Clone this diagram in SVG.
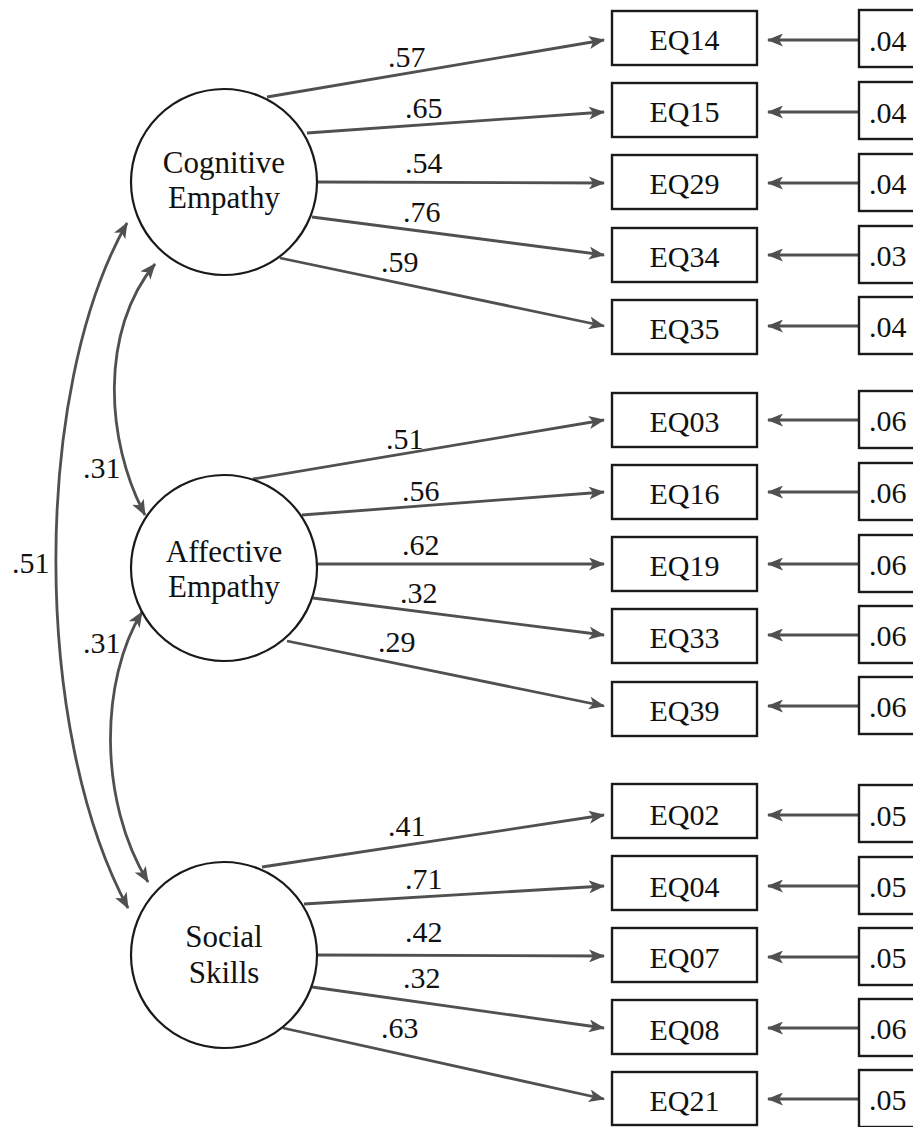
<svg xmlns="http://www.w3.org/2000/svg" width="913" height="1127" viewBox="0 0 913 1127">
<style>
.bg{fill:#ffffff}
.lat{fill:#ffffff;stroke:#1a1a1a;stroke-width:2.2}
.box{fill:#ffffff;stroke:#1a1a1a;stroke-width:2.4}
.ln{fill:none;stroke:#505050;stroke-width:2.8}
.t{font-family:"Liberation Serif","Times New Roman",serif;font-size:30px;fill:#111111}
.tl{font-family:"Liberation Serif","Times New Roman",serif;font-size:31px;fill:#111111;text-anchor:middle}
.tc{text-anchor:middle}
</style>
<defs>
<marker id="ah" viewBox="0 0 16 13" refX="15" refY="6.5" markerWidth="16" markerHeight="13" markerUnits="userSpaceOnUse" orient="auto-start-reverse">
<path d="M0,0 L16,6.5 L0,13 L4,6.5 Z" fill="#505050"/>
</marker>
</defs>
<rect class="bg" x="0" y="0" width="913" height="1127"/>

<g id="connectors">
<!-- covariances -->
<path class="ln" d="M127,223 C32,390 32,730 128,908" marker-start="url(#ah)" marker-end="url(#ah)"/>
<path class="ln" d="M155,264 C100,330 105,440 145,515" marker-start="url(#ah)" marker-end="url(#ah)"/>
<path class="ln" d="M142,612 C100,680 98,800 148,882" marker-start="url(#ah)" marker-end="url(#ah)"/>
<!-- loadings: cognitive -->
<line class="ln" x1="267" y1="97" x2="604" y2="40" marker-end="url(#ah)"/>
<line class="ln" x1="307" y1="133" x2="604" y2="112" marker-end="url(#ah)"/>
<line class="ln" x1="317" y1="182" x2="604" y2="183" marker-end="url(#ah)"/>
<line class="ln" x1="312" y1="217" x2="604" y2="255" marker-end="url(#ah)"/>
<line class="ln" x1="280" y1="258" x2="604" y2="326" marker-end="url(#ah)"/>
<!-- loadings: affective -->
<line class="ln" x1="253" y1="479" x2="604" y2="420" marker-end="url(#ah)"/>
<line class="ln" x1="302" y1="515" x2="604" y2="492" marker-end="url(#ah)"/>
<line class="ln" x1="317" y1="564" x2="604" y2="564" marker-end="url(#ah)"/>
<line class="ln" x1="313" y1="598" x2="604" y2="635" marker-end="url(#ah)"/>
<line class="ln" x1="287" y1="641" x2="604" y2="706" marker-end="url(#ah)"/>
<!-- loadings: social -->
<line class="ln" x1="262" y1="867" x2="604" y2="815" marker-end="url(#ah)"/>
<line class="ln" x1="304" y1="904" x2="604" y2="886" marker-end="url(#ah)"/>
<line class="ln" x1="317" y1="955" x2="604" y2="956" marker-end="url(#ah)"/>
<line class="ln" x1="312" y1="987" x2="604" y2="1028" marker-end="url(#ah)"/>
<line class="ln" x1="283" y1="1028" x2="604" y2="1099" marker-end="url(#ah)"/>
<!-- error arrows -->
<line class="ln" x1="859" y1="40" x2="768" y2="40" marker-end="url(#ah)"/>
<line class="ln" x1="859" y1="112" x2="768" y2="112" marker-end="url(#ah)"/>
<line class="ln" x1="859" y1="183" x2="768" y2="183" marker-end="url(#ah)"/>
<line class="ln" x1="859" y1="255" x2="768" y2="255" marker-end="url(#ah)"/>
<line class="ln" x1="859" y1="326" x2="768" y2="326" marker-end="url(#ah)"/>
<line class="ln" x1="859" y1="420" x2="768" y2="420" marker-end="url(#ah)"/>
<line class="ln" x1="859" y1="492" x2="768" y2="492" marker-end="url(#ah)"/>
<line class="ln" x1="859" y1="564" x2="768" y2="564" marker-end="url(#ah)"/>
<line class="ln" x1="859" y1="635" x2="768" y2="635" marker-end="url(#ah)"/>
<line class="ln" x1="859" y1="706" x2="768" y2="706" marker-end="url(#ah)"/>
<line class="ln" x1="859" y1="815" x2="768" y2="815" marker-end="url(#ah)"/>
<line class="ln" x1="859" y1="886" x2="768" y2="886" marker-end="url(#ah)"/>
<line class="ln" x1="859" y1="957" x2="768" y2="957" marker-end="url(#ah)"/>
<line class="ln" x1="859" y1="1028" x2="768" y2="1028" marker-end="url(#ah)"/>
<line class="ln" x1="859" y1="1099" x2="768" y2="1099" marker-end="url(#ah)"/>
<!-- labels -->
<text class="t" x="83" y="478">.31</text>
<text class="t" x="83" y="653">.31</text>
<text class="t" x="12" y="573">.51</text>
<text class="t" x="388" y="67">.57</text>
<text class="t" x="405" y="118">.65</text>
<text class="t" x="405" y="173">.54</text>
<text class="t" x="403" y="222">.76</text>
<text class="t" x="381" y="272">.59</text>
<text class="t" x="386" y="449">.51</text>
<text class="t" x="402" y="501">.56</text>
<text class="t" x="402" y="555">.62</text>
<text class="t" x="400" y="603">.32</text>
<text class="t" x="378" y="652">.29</text>
<text class="t" x="388" y="836">.41</text>
<text class="t" x="405" y="889">.71</text>
<text class="t" x="405" y="942">.42</text>
<text class="t" x="403" y="988">.32</text>
<text class="t" x="381" y="1038">.63</text>
</g>

<g id="cognitive">
<circle class="lat" cx="224" cy="182" r="93"/>
<text class="tl" x="224" y="173">Cognitive</text>
<text class="tl" x="224" y="208">Empathy</text>
</g>
<g id="affective">
<circle class="lat" cx="224" cy="568" r="93"/>
<text class="tl" x="224" y="562">Affective</text>
<text class="tl" x="224" y="597">Empathy</text>
</g>
<g id="social">
<circle class="lat" cx="224" cy="955" r="93"/>
<text class="tl" x="224" y="947">Social</text>
<text class="tl" x="224" y="983">Skills</text>
</g>

<g id="EQ14"><rect class="box" x="612" y="11" width="145" height="54"/><text class="t tc" x="684.5" y="50">EQ14</text></g>
<g id="EQ15"><rect class="box" x="612" y="83" width="145" height="54"/><text class="t tc" x="684.5" y="122">EQ15</text></g>
<g id="EQ29"><rect class="box" x="612" y="155" width="145" height="54"/><text class="t tc" x="684.5" y="194">EQ29</text></g>
<g id="EQ34"><rect class="box" x="612" y="228" width="145" height="54"/><text class="t tc" x="684.5" y="267">EQ34</text></g>
<g id="EQ35"><rect class="box" x="612" y="300" width="145" height="54"/><text class="t tc" x="684.5" y="339">EQ35</text></g>
<g id="EQ03"><rect class="box" x="612" y="393" width="145" height="54"/><text class="t tc" x="684.5" y="432">EQ03</text></g>
<g id="EQ16"><rect class="box" x="612" y="465" width="145" height="54"/><text class="t tc" x="684.5" y="504">EQ16</text></g>
<g id="EQ19"><rect class="box" x="612" y="537" width="145" height="54"/><text class="t tc" x="684.5" y="576">EQ19</text></g>
<g id="EQ33"><rect class="box" x="612" y="609" width="145" height="54"/><text class="t tc" x="684.5" y="648">EQ33</text></g>
<g id="EQ39"><rect class="box" x="612" y="682" width="145" height="54"/><text class="t tc" x="684.5" y="721">EQ39</text></g>
<g id="EQ02"><rect class="box" x="612" y="784" width="145" height="54"/><text class="t tc" x="684.5" y="825">EQ02</text></g>
<g id="EQ04"><rect class="box" x="612" y="856" width="145" height="54"/><text class="t tc" x="684.5" y="897">EQ04</text></g>
<g id="EQ07"><rect class="box" x="612" y="928" width="145" height="54"/><text class="t tc" x="684.5" y="968">EQ07</text></g>
<g id="EQ08"><rect class="box" x="612" y="1000" width="145" height="54"/><text class="t tc" x="684.5" y="1040">EQ08</text></g>
<g id="EQ21"><rect class="box" x="612" y="1072" width="145" height="53"/><text class="t tc" x="684.5" y="1111">EQ21</text></g>

<g id="e14"><rect class="box" x="859" y="10" width="70" height="57"/><text class="t" x="869" y="51">.04</text></g>
<g id="e15"><rect class="box" x="859" y="82" width="70" height="57"/><text class="t" x="869" y="123">.04</text></g>
<g id="e29"><rect class="box" x="859" y="154" width="70" height="57"/><text class="t" x="869" y="194">.04</text></g>
<g id="e34"><rect class="box" x="859" y="226" width="70" height="57"/><text class="t" x="869" y="266">.03</text></g>
<g id="e35"><rect class="box" x="859" y="297" width="70" height="57"/><text class="t" x="869" y="337">.04</text></g>
<g id="e03"><rect class="box" x="859" y="391" width="70" height="57"/><text class="t" x="869" y="431">.06</text></g>
<g id="e16"><rect class="box" x="859" y="463" width="70" height="57"/><text class="t" x="869" y="503">.06</text></g>
<g id="e19"><rect class="box" x="859" y="535" width="70" height="57"/><text class="t" x="869" y="575">.06</text></g>
<g id="e33"><rect class="box" x="859" y="606" width="70" height="57"/><text class="t" x="869" y="646">.06</text></g>
<g id="e39"><rect class="box" x="859" y="677" width="70" height="57"/><text class="t" x="869" y="717">.06</text></g>
<g id="e02"><rect class="box" x="859" y="785" width="70" height="57"/><text class="t" x="869" y="826">.05</text></g>
<g id="e04"><rect class="box" x="859" y="857" width="70" height="57"/><text class="t" x="869" y="897">.05</text></g>
<g id="e07"><rect class="box" x="859" y="928" width="70" height="57"/><text class="t" x="869" y="968">.05</text></g>
<g id="e08"><rect class="box" x="859" y="999" width="70" height="57"/><text class="t" x="869" y="1039">.06</text></g>
<g id="e21"><rect class="box" x="859" y="1070" width="70" height="57"/><text class="t" x="869" y="1110">.05</text></g>
</svg>
